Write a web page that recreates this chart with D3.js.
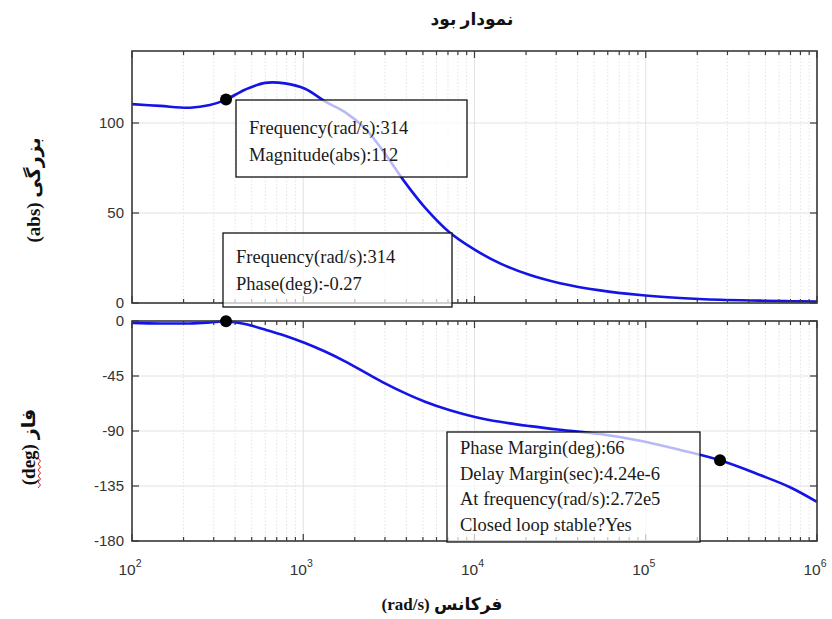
<!DOCTYPE html>
<html><head><meta charset="utf-8">
<script src="https://cdn.jsdelivr.net/npm/d3@7"></script>
<style>body{margin:0;background:#fff}svg{display:block}</style>
</head><body>
<svg id="c" width="832" height="619"></svg>
<script>
// ---- data ----
const freq = [100,146,218,285,354,457,598,783,1024,1340,1753,2294,3002,3929,5141,7193,10070,14090,21090,31570,54060,92560,158500,271400,464800,695700,1000000];
const magnitude = [110.5,109.5,108.5,110,113,118.5,122.3,122,119,112,106,97,83,67,53,39,29.5,22,15.5,11,7,4.4,2.8,1.8,1.3,1,0.8];
const phase = [-1.5,-2,-2,-1.2,-0.27,-2.5,-7,-12,-18,-25,-33,-42,-51,-59,-66,-73,-78.5,-82.5,-86,-89,-92.5,-98,-105.5,-114,-126,-136,-148];
const magTicks = [0,50,100];
const phaseTicks = [0,-45,-90,-135,-180];
const xDecades = [2,3,4,5,6];
const markerMag = {f:354, v:113};
const markerPhase = {f:354, v:-0.27};
const markerPM = {f:271400, v:-114};
const box1Lines = ["Frequency(rad/s):314","Magnitude(abs):112"];
const box2Lines = ["Frequency(rad/s):314","Phase(deg):-0.27"];
const box3Lines = ["Phase Margin(deg):66","Delay Margin(sec):4.24e-6","At frequency(rad/s):2.72e5","Closed loop stable?Yes"];

const svg = d3.select("#c");
const X0=132, X1=817;
const top1=51, bot1=303, top2=321, bot2=541;
const x = d3.scaleLog().domain([1e2,1e6]).range([X0,X1]);
const yM = d3.scaleLinear().domain([0,140]).range([bot1,top1]);
const yP = d3.scaleLinear().domain([-180,0]).range([bot2,top2]);

const minors=[];
for(let d=2; d<6; d++) for(let k=2;k<10;k++) minors.push(k*Math.pow(10,d));
const majors = xDecades.map(d=>Math.pow(10,d));

function panel(y, top, bot, ticks){
  const g = svg.append("g");
  g.selectAll(".mg").data(minors).enter().append("line")
    .attr("x1",d=>x(d)).attr("x2",d=>x(d)).attr("y1",top).attr("y2",bot)
    .attr("stroke","#dcdcdc").attr("stroke-width",0.8).attr("stroke-dasharray","1.5,2");
  g.selectAll(".Mg").data(majors).enter().append("line")
    .attr("x1",d=>x(d)).attr("x2",d=>x(d)).attr("y1",top).attr("y2",bot)
    .attr("stroke","#e2e2e2").attr("stroke-width",1);
  g.selectAll(".hg").data(ticks).enter().append("line")
    .attr("x1",X0).attr("x2",X1).attr("y1",d=>y(d)).attr("y2",d=>y(d))
    .attr("stroke","#e2e2e2").attr("stroke-width",1);
  return g;
}
function frame(y, top, bot, ticks){
  const g = svg.append("g");
  g.append("rect").attr("x",X0).attr("y",top).attr("width",X1-X0).attr("height",bot-top)
    .attr("fill","none").attr("stroke","#3a3a3a").attr("stroke-width",1.6);
  [[top,1],[bot,-1]].forEach(([yy,s])=>{
    g.selectAll(null).data(minors).enter().append("line")
      .attr("x1",d=>x(d)).attr("x2",d=>x(d)).attr("y1",yy).attr("y2",yy+s*4)
      .attr("stroke","#3a3a3a").attr("stroke-width",1.2);
    g.selectAll(null).data(majors).enter().append("line")
      .attr("x1",d=>x(d)).attr("x2",d=>x(d)).attr("y1",yy).attr("y2",yy+s*7)
      .attr("stroke","#3a3a3a").attr("stroke-width",1.2);
  });
  [[X0,1],[X1,-1]].forEach(([xx,s])=>{
    g.selectAll(null).data(ticks).enter().append("line")
      .attr("x1",xx).attr("x2",xx+s*7).attr("y1",d=>y(d)).attr("y2",d=>y(d))
      .attr("stroke","#3a3a3a").attr("stroke-width",1.2);
  });
  g.selectAll(null).data(ticks).enter().append("text")
    .attr("x",124).attr("y",d=>y(d)+5).attr("text-anchor","end")
    .attr("font-family","Liberation Sans, Arial, sans-serif").attr("font-size",15)
    .attr("fill","#333").text(d=>d);
}

panel(yM, top1, bot1, magTicks);
panel(yP, top2, bot2, phaseTicks);

const lineM = d3.line().x((d,i)=>x(freq[i])).y(d=>yM(d)).curve(d3.curveCatmullRom.alpha(0.5));
const lineP = d3.line().x((d,i)=>x(freq[i])).y(d=>yP(d)).curve(d3.curveCatmullRom.alpha(0.5));
svg.append("path").attr("d",lineM(magnitude)).attr("fill","none").attr("stroke","#1414e6").attr("stroke-width",2.6);
svg.append("path").attr("d",lineP(phase)).attr("fill","none").attr("stroke","#1414e6").attr("stroke-width",2.6);

frame(yM, top1, bot1, magTicks);
frame(yP, top2, bot2, phaseTicks);

[[markerMag,yM],[markerPhase,yP],[markerPM,yP]].forEach(([m,y])=>{
  svg.append("circle").attr("cx",x(m.f)).attr("cy",y(m.v)).attr("r",6).attr("fill","#000");
});

const xl = svg.append("g").attr("font-family","Liberation Sans, Arial, sans-serif").attr("fill","#333");
xDecades.forEach(d=>{
  const t = xl.append("text").attr("x",x(Math.pow(10,d))-2).attr("y",575).attr("text-anchor","middle").attr("font-size",15.5);
  t.append("tspan").text("10");
  t.append("tspan").attr("dy",-8).attr("font-size",10.5).text(d);
});

function box(x0,y0,w,h,lines,ty,dy){
  svg.append("rect").attr("x",x0).attr("y",y0).attr("width",w).attr("height",h)
    .attr("fill","#fff").attr("fill-opacity",0.7).attr("stroke","#111").attr("stroke-width",1.3);
  svg.selectAll(null).data(lines).enter().append("text")
    .attr("x",x0+13).attr("y",(d,i)=>ty+i*dy)
    .attr("font-family","Liberation Serif, Times New Roman, serif").attr("font-size",18.5)
    .attr("fill","#1a1a1a").text(d=>d);
}
box(236,100,231,77,box1Lines,134,27);
box(223,233,229,74,box2Lines,263,27);
box(447,432,253,110,box3Lines,454,25.5);

const tf = "Liberation Serif, DejaVu Sans, serif";
svg.append("text").attr("x",472).attr("y",25).attr("text-anchor","middle")
  .attr("font-family",tf).attr("font-weight","bold").attr("font-size",17).attr("fill","#111").text("نمودار بود");
svg.append("text").attr("x",442).attr("y",610).attr("text-anchor","middle")
  .attr("font-family",tf).attr("font-weight","bold").attr("font-size",17).attr("fill","#111").text("(rad/s) فرکانس");
svg.append("text").attr("transform","translate(40,190) rotate(-90)").attr("text-anchor","middle")
  .attr("font-family",tf).attr("font-weight","bold").attr("font-size",19).attr("fill","#111").text("(abs) بزرگی");
svg.append("text").attr("transform","translate(35,447) rotate(-90)").attr("text-anchor","middle")
  .attr("font-family",tf).attr("font-weight","bold").attr("font-size",19).attr("fill","#111").text("(deg) فاز");
let sq="M38,488"; for(let i=0;i<10;i++){ sq+=` L${i%2?38:40.5},${488-(i+1)*3}`; }
svg.append("path").attr("d",sq).attr("fill","none").attr("stroke","#d02020").attr("stroke-width",1);
</script>
</body></html>
